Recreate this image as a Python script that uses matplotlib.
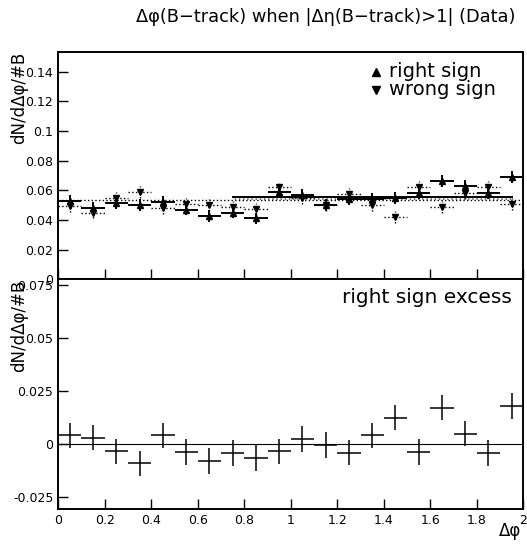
import numpy as np
import matplotlib
matplotlib.use('Agg')
import matplotlib.pyplot as plt
import matplotlib.ticker as mtp_ticker

#### DATA ####
bin_centers = np.arange(0.05, 2.0, 0.1)
bin_half = 0.05

right_sign = [0.053, 0.048, 0.0515, 0.050, 0.052, 0.047, 0.0425, 0.045, 0.041, 0.059,
              0.057, 0.050, 0.054, 0.054, 0.0545, 0.058, 0.066, 0.063, 0.058, 0.069]
wrong_sign = [0.0495, 0.045, 0.055, 0.059, 0.048, 0.051, 0.050, 0.049, 0.0475, 0.0625,
              0.0545, 0.0503, 0.0575, 0.050, 0.042, 0.062, 0.049, 0.058, 0.062, 0.051]
sign_err = 0.004

excess = [0.0042, 0.0031, -0.0033, -0.0090, 0.0042, -0.0036, -0.0078, -0.0041, -0.0065, -0.0033,
          0.0025, -0.0003, -0.0039, 0.0042, 0.0126, -0.0036, 0.0173, 0.0051, -0.0041, 0.0181]
excess_err = 0.006

# flat fits drawn in the top panel
fit_all = 0.0535
fit_right = 0.0554
fit_right_range = [0.75, 1.95]

top_yticks = [0, 0.02, 0.04, 0.06, 0.08, 0.1, 0.12, 0.14]
bot_yticks = [-0.025, 0, 0.025, 0.05, 0.075]
xticks = [0, 0.2, 0.4, 0.6, 0.8, 1, 1.2, 1.4, 1.6, 1.8, 2]

#### FIGURE ####
fig = plt.figure(figsize=(5.27, 5.44), dpi=100)
ax1 = fig.add_axes([0.1105, 0.4866, 0.8825, 0.4184])
ax2 = fig.add_axes([0.1105, 0.0643, 0.8825, 0.4223], sharex=ax1)

fmt = mtp_ticker.FuncFormatter(lambda v, p: '%g' % v)

# top panel: right sign (solid) and wrong sign (dotted)
eb = ax1.errorbar(bin_centers, wrong_sign, xerr=bin_half, yerr=sign_err, fmt='v', color='black',
                  ms=5, elinewidth=1.0, capsize=0)
eb[-1][0].set_linestyle(':')
eb[-1][1].set_linestyle(':')
ax1.errorbar(bin_centers, right_sign, xerr=bin_half, yerr=sign_err, fmt='^', color='black',
             ms=5, elinewidth=1.4, capsize=0)

ax1.plot([0, 2], [fit_all, fit_all], color='black', ls=':', lw=1.0)
ax1.fill_between(fit_right_range, fit_all, fit_right, facecolor='none', edgecolor='#777777',
                 hatch='||||', lw=0)
ax1.plot(fit_right_range, [fit_right, fit_right], color='black', lw=1.4)

# legend drawn by hand like the original
ax1.plot([0.683], [0.911], marker='^', color='black', ms=6, transform=ax1.transAxes)
ax1.plot([0.683], [0.832], marker='v', color='black', ms=6, transform=ax1.transAxes)
ax1.text(0.712, 0.911, 'right sign', transform=ax1.transAxes, fontsize=14, va='center')
ax1.text(0.712, 0.832, 'wrong sign', transform=ax1.transAxes, fontsize=14, va='center')

ax1.set_ylim(0, 0.1534)
ax1.set_yticks(top_yticks)
ax1.yaxis.set_major_formatter(fmt)
ax1.set_ylabel('dN/dΔφ/#B', fontsize=12, loc='top')
ax1.yaxis.set_label_coords(-0.064, 1.0)
ax1.tick_params(axis='x', labelbottom=False)

# bottom panel: excess
ax2.errorbar(bin_centers, excess, xerr=bin_half, yerr=excess_err, fmt='none', color='black',
             elinewidth=1.1, capsize=0)
ax2.axhline(0, color='black', lw=0.8)
ax2.text(0.976, 0.919, 'right sign excess', transform=ax2.transAxes, fontsize=14.5,
         ha='right', va='center')

ax2.set_ylim(-0.0305, 0.0778)
ax2.set_yticks(bot_yticks)
ax2.yaxis.set_major_formatter(fmt)
ax2.set_ylabel('dN/dΔφ/#B', fontsize=12, loc='top')
ax2.yaxis.set_label_coords(-0.064, 1.0)

ax2.set_xlim(0, 2)
ax2.set_xticks(xticks)
ax2.xaxis.set_major_formatter(fmt)
ax2.set_xlabel('Δφ', fontsize=12, loc='right')
ax2.xaxis.set_label_coords(0.995, -0.055)

for ax in (ax1, ax2):
    ax.tick_params(direction='in', length=7, width=1, labelsize=9)
    for s in ax.spines.values():
        s.set_linewidth(1.4)

fig.text(0.618, 0.969, 'Δφ(B−track) when |Δη(B−track)>1| (Data)', fontsize=12.8,
         ha='center', va='center')

fig.savefig('out.png', dpi=100)
